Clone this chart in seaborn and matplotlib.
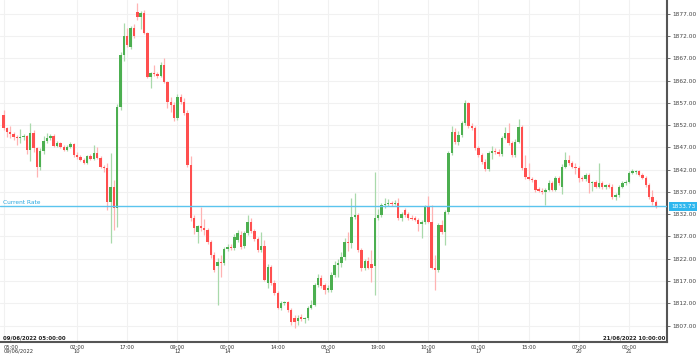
import matplotlib
matplotlib.use("Agg")
import matplotlib.pyplot as plt
import matplotlib.transforms as mtransforms
import seaborn as sns
import numpy as np
import pandas as pd

opens = [1854.3, 1851.4, 1850.5, 1850.1, 1849.4, 1849.0, 1849.3, 1849.5, 1846.5, 1850.3,
         1846.9, 1842.6, 1846.3, 1848.4, 1849.0, 1849.6, 1847.4, 1847.9, 1847.2, 1846.5,
         1847.2, 1847.8, 1845.3, 1844.9, 1844.2, 1843.5, 1845.0, 1844.5, 1845.8, 1844.6,
         1842.7, 1842.3, 1834.8, 1838.1, 1833.4,
         1856.1, 1867.8, 1872.1, 1869.6, 1873.9, 1877.4, 1876.3, 1877.2, 1872.7, 1862.9,
         1863.8, 1863.5, 1863.0, 1865.5, 1861.7, 1857.2, 1856.6, 1853.6, 1858.4, 1857.3,
         1854.8, 1843.1, 1831.2,
         1828.0, 1829.3, 1828.9, 1828.5, 1825.8, 1822.9, 1820.3, 1821.3, 1821.0, 1824.2,
         1824.7, 1824.4, 1826.2, 1827.4, 1824.9, 1827.8, 1830.3, 1828.2, 1826.4, 1824.0,
         1824.8, 1816.6, 1820.1, 1816.6, 1814.3, 1811.0, 1812.0, 1812.2, 1810.5, 1808.6,
         1808.0, 1808.9, 1808.4, 1808.6, 1811.0, 1811.7, 1816.1, 1817.7, 1816.1, 1815.0,
         1815.0, 1818.4, 1820.6, 1821.1,
         1822.4, 1825.8, 1825.5, 1831.4, 1831.8, 1824.0, 1820.0, 1821.5, 1820.8, 1820.3,
         1831.2, 1831.9, 1834.1, 1834.3, 1834.4, 1834.3, 1834.6, 1831.2, 1832.9, 1832.1,
         1831.2, 1831.2, 1830.7, 1829.9, 1830.3, 1833.6, 1830.3, 1820.0, 1819.5, 1829.6,
         1828.0, 1832.5, 1845.8,
         1850.5, 1848.3, 1849.8, 1852.5, 1857.0, 1851.9, 1851.4, 1846.9, 1845.3, 1843.8,
         1842.2, 1845.8, 1846.2, 1846.0, 1845.5, 1849.2, 1850.3, 1848.0, 1845.3, 1848.3,
         1851.6, 1842.4, 1840.4, 1840.0, 1839.7, 1837.5, 1837.3, 1837.0, 1837.5, 1839.0,
         1837.5, 1840.2, 1838.0, 1842.7, 1844.2, 1843.5, 1842.7, 1842.4, 1840.2, 1839.8,
         1840.8, 1839.0, 1839.2, 1838.2, 1839.0, 1838.2, 1838.4, 1838.2, 1835.9, 1836.3,
         1838.2, 1839.0, 1839.3, 1841.3, 1841.5, 1841.6, 1840.9, 1840.2, 1838.6, 1835.9,
         1834.8]
highs = [1855.4, 1851.6, 1851.8, 1850.4, 1849.8, 1851.2, 1849.9, 1849.8, 1852.4, 1850.9,
         1847.2, 1846.8, 1849.6, 1850.2, 1850.0, 1849.9, 1848.5, 1848.2, 1847.5, 1847.6,
         1848.2, 1848.0, 1846.0, 1845.4, 1844.6, 1845.4, 1845.6, 1847.6, 1847.0, 1845.0,
         1843.0, 1843.5, 1845.8, 1839.7, 1856.8,
         1868.5, 1875.0, 1873.9, 1874.3, 1874.6, 1879.4, 1877.6, 1877.8, 1873.0, 1864.0,
         1865.5, 1864.0, 1866.2, 1867.1, 1862.0, 1858.4, 1857.2, 1859.0, 1858.9, 1858.0,
         1855.4, 1845.0, 1831.8,
         1829.6, 1833.6, 1830.9, 1829.0, 1826.2, 1823.4, 1822.2, 1822.8, 1824.6, 1825.4,
         1825.2, 1827.6, 1828.4, 1828.2, 1828.3, 1831.9, 1831.2, 1828.6, 1826.8, 1828.0,
         1826.2, 1820.8, 1820.6, 1817.2, 1814.8, 1812.6, 1812.6, 1812.4, 1810.9, 1809.3,
         1809.4, 1809.5, 1809.0, 1811.4, 1812.8, 1816.6, 1818.6, 1818.4, 1816.5, 1816.0,
         1819.0, 1821.6, 1822.0, 1823.5,
         1826.7, 1828.0, 1835.7, 1836.8, 1832.2, 1824.4, 1822.0, 1822.3, 1824.0, 1841.5,
         1833.2, 1834.6, 1835.7, 1835.4, 1835.0, 1835.1, 1835.7, 1832.6, 1833.4, 1832.6,
         1831.8, 1831.6, 1831.2, 1830.6, 1834.0, 1836.1, 1834.1, 1822.9, 1830.0, 1830.6,
         1833.0, 1846.3, 1851.8,
         1851.4, 1850.6, 1853.0, 1857.7, 1857.3, 1852.4, 1851.8, 1847.3, 1845.8, 1844.3,
         1846.3, 1847.3, 1846.8, 1846.6, 1849.6, 1851.6, 1852.5, 1848.4, 1848.8, 1853.4,
         1852.0, 1845.3, 1843.6, 1840.4, 1840.0, 1838.0, 1837.9, 1837.9, 1839.6, 1839.4,
         1840.6, 1840.6, 1843.2, 1846.0, 1845.4, 1843.9, 1843.6, 1842.8, 1840.6, 1841.3,
         1841.2, 1839.5, 1839.6, 1843.5, 1839.5, 1838.8, 1839.0, 1838.8, 1836.8, 1838.6,
         1839.4, 1839.7, 1841.7, 1842.2, 1842.0, 1842.0, 1841.2, 1840.6, 1839.0, 1837.5,
         1835.2]
lows = [1851.0, 1849.4, 1849.0, 1848.6, 1847.6, 1848.0, 1848.6, 1845.6, 1844.0, 1846.0,
        1840.4, 1842.0, 1845.6, 1848.0, 1848.6, 1847.0, 1847.1, 1846.8, 1846.2, 1846.2,
        1846.9, 1844.9, 1844.4, 1843.9, 1843.2, 1843.2, 1844.2, 1844.2, 1844.4, 1842.4,
        1841.5, 1833.0, 1825.6, 1828.5, 1829.2,
        1855.4, 1866.5, 1869.5, 1869.0, 1871.5, 1875.5, 1873.5, 1872.5, 1862.5, 1860.4,
        1863.0, 1862.6, 1862.8, 1861.4, 1855.9, 1855.0, 1853.0, 1853.2, 1856.8, 1854.2,
        1842.6, 1830.5, 1827.6,
        1825.6, 1828.3, 1827.4, 1825.4, 1822.2, 1819.0, 1811.6, 1818.0, 1820.6, 1823.8,
        1823.9, 1824.0, 1825.8, 1824.2, 1824.4, 1827.4, 1827.8, 1826.0, 1823.6, 1823.5,
        1816.9, 1815.5, 1816.2, 1813.8, 1810.6, 1810.4, 1811.5, 1810.1, 1807.2, 1806.5,
        1807.2, 1808.0, 1807.6, 1808.2, 1810.6, 1811.3, 1815.6, 1815.5, 1814.0, 1814.5,
        1814.6, 1818.0, 1818.0, 1820.2,
        1821.8, 1823.8, 1824.4, 1830.9, 1823.6, 1819.2, 1819.5, 1819.6, 1816.8, 1813.9,
        1830.8, 1831.4, 1833.4, 1833.9, 1833.9, 1834.0, 1830.8, 1830.4, 1831.4, 1830.6,
        1830.6, 1830.4, 1828.2, 1826.7, 1829.8, 1830.0, 1819.6, 1815.0, 1819.0, 1827.6,
        1825.1, 1832.0, 1845.2,
        1847.8, 1847.6, 1849.4, 1852.0, 1851.4, 1850.8, 1846.4, 1844.9, 1843.3, 1841.6,
        1841.8, 1844.4, 1845.6, 1845.0, 1845.1, 1848.8, 1847.6, 1844.9, 1844.9, 1848.0,
        1841.9, 1840.0, 1839.6, 1839.2, 1837.0, 1836.9, 1836.6, 1834.1, 1837.1, 1837.1,
        1837.1, 1838.6, 1836.5, 1842.3, 1843.1, 1842.3, 1841.0, 1839.3, 1839.4, 1839.4,
        1836.8, 1837.3, 1837.8, 1837.8, 1837.6, 1837.6, 1837.9, 1835.4, 1835.2, 1835.9,
        1837.8, 1838.6, 1839.0, 1841.0, 1841.0, 1840.5, 1839.8, 1838.2, 1835.4, 1834.1,
        1833.3]
closes = [1851.4, 1850.5, 1850.1, 1849.4, 1849.0, 1849.3, 1849.5, 1846.5, 1850.3, 1846.9,
          1842.6, 1846.3, 1848.4, 1849.0, 1849.6, 1847.4, 1847.9, 1847.2, 1846.5, 1847.2,
          1847.8, 1845.3, 1844.9, 1844.2, 1843.5, 1845.0, 1844.5, 1845.8, 1844.6, 1842.7,
          1842.3, 1834.8, 1838.1, 1833.4, 1856.1,
          1867.8, 1872.1, 1870.0, 1873.9, 1872.1, 1876.3, 1877.2, 1872.7, 1862.9, 1863.8,
          1863.5, 1863.0, 1865.5, 1861.7, 1857.2, 1856.6, 1853.6, 1858.4, 1857.3, 1854.8,
          1843.1, 1831.2, 1828.9,
          1829.3, 1828.9, 1828.5, 1825.8, 1822.9, 1819.5, 1821.3, 1821.0, 1824.2, 1824.7,
          1824.4, 1826.9, 1827.8, 1824.7, 1827.8, 1830.3, 1828.2, 1826.4, 1824.0, 1824.8,
          1817.3, 1820.1, 1816.6, 1814.3, 1811.0, 1812.0, 1812.2, 1810.5, 1807.8, 1807.9,
          1808.8, 1808.4, 1808.6, 1811.0, 1811.7, 1816.1, 1817.7, 1815.9, 1815.0, 1815.4,
          1818.4, 1820.6, 1821.1, 1822.4,
          1825.8, 1825.5, 1831.4, 1831.8, 1824.0, 1820.0, 1821.5, 1820.0, 1820.0, 1831.2,
          1831.9, 1834.1, 1834.3, 1834.4, 1834.3, 1834.6, 1831.2, 1832.1, 1831.9, 1831.2,
          1830.9, 1830.7, 1829.7, 1830.3, 1833.6, 1830.3, 1820.0, 1819.5, 1829.6, 1828.0,
          1832.5, 1845.8, 1850.5,
          1848.3, 1849.8, 1852.5, 1857.0, 1851.9, 1851.4, 1846.9, 1845.3, 1843.8, 1842.2,
          1845.8, 1846.2, 1846.0, 1845.5, 1849.2, 1850.3, 1848.0, 1845.3, 1848.3, 1851.6,
          1842.4, 1840.4, 1840.0, 1839.7, 1837.5, 1837.3, 1837.0, 1837.5, 1839.0, 1837.5,
          1840.2, 1839.0, 1842.7, 1844.2, 1843.5, 1842.7, 1842.4, 1840.2, 1839.8, 1840.8,
          1839.0, 1839.2, 1838.2, 1839.0, 1838.2, 1838.4, 1838.2, 1835.9, 1836.3, 1838.2,
          1839.0, 1839.3, 1841.3, 1841.5, 1841.6, 1840.9, 1840.2, 1838.6, 1835.9, 1834.8,
          1833.73]

tick_labels = ["05:00\n09/06/2022", "02:00\n10", "17:00", "09:00\n12", "00:00\n14",
               "14:00", "05:00\n15", "19:00", "10:00\n16", "01:00\n17", "15:00",
               "07:00\n20", "00:00\n21"]
tick_candles = [0, 22, 37, 52, 67, 82, 97, 112, 127, 142, 157, 172, 187]
price_ticks = [1807, 1812, 1817, 1822, 1827, 1832, 1837, 1842, 1847, 1852,
               1857, 1862, 1867, 1872, 1877]
current_rate = 1833.73
start_stamp = "09/06/2022 05:00:00"
end_stamp = "21/06/2022 10:00:00"

sns.set_theme(style="white")
plt.rcParams["font.family"] = ["DejaVu Sans"]

df = pd.DataFrame({"o": opens, "h": highs, "l": lows, "c": closes})
df["x"] = np.arange(len(df))
df["up"] = df["c"] >= df["o"]
df["bottom"] = df[["o", "c"]].min(axis=1)
df["height"] = (df["c"] - df["o"]).abs().clip(lower=0.3)

GREEN, RED = "#4caf50", "#ff4f4f"
GREEN_W, RED_W = "#a9d9ab", "#ffb3b3"

fig = plt.figure(figsize=(6.99, 3.54), dpi=100)
fig.patch.set_facecolor("white")
ax = fig.add_axes([0, 12 / 354, 667 / 699, 342 / 354])
ax.set_facecolor("white")

# wicks
ax.vlines(df["x"], df["l"], df["h"],
          colors=np.where(df["up"], GREEN_W, RED_W), lw=0.9, zorder=2)
# bodies
ax.bar(df["x"], df["height"], bottom=df["bottom"], width=0.72,
       color=np.where(df["up"], GREEN, RED), linewidth=0, zorder=3)

px = 3.345
ax.set_xlim(-3.5 / px, (667 - 3.5) / px)
ax.set_ylim(1803.3, 1880.1)

ax.set_xticks(tick_candles)
ax.set_xticklabels(tick_labels, fontsize=3.7, color="#333333", linespacing=0.8)
ax.get_xticklabels()[0].set_ha("left")
ax.yaxis.tick_right()
ax.set_yticks(price_ticks)
ax.set_yticklabels([f"{v:.2f}" for v in price_ticks], fontsize=4.2, color="#444444")
ax.tick_params(axis="x", length=1.5, width=0.6, pad=0.4, colors="#555555", labelcolor="#333333")
ax.tick_params(axis="y", length=2.5, width=0.6, pad=1.5, colors="#555555", labelcolor="#444444")

ax.grid(True, color="#f1f1f1", lw=0.8, zorder=0)
ax.set_axisbelow(True)
for side in ["top", "left"]:
    ax.spines[side].set_visible(False)
for side in ["right", "bottom"]:
    ax.spines[side].set_visible(True)
    ax.spines[side].set_color("#555555")
    ax.spines[side].set_linewidth(1.5)

# current rate
blend = mtransforms.blended_transform_factory(ax.transAxes, ax.transData)
ax.axhline(current_rate, color="#5bc4ee", lw=1.0, zorder=4)
ax.text(0.005, current_rate + 0.35, "Current Rate", transform=blend,
        fontsize=4.2, color="#2aa8e0", ha="left", va="bottom", zorder=5)
ax.text(1.006, current_rate, f"{current_rate:.2f}", transform=blend,
        fontsize=4.2, color="white", ha="left", va="center", clip_on=False, zorder=6,
        bbox=dict(boxstyle="square,pad=0.3", fc="#2fb7ee", ec="none"))

# time stamps
ax.text(0.004, 0.004, start_stamp, transform=ax.transAxes, fontsize=3.9,
        color="#222222", ha="left", va="bottom", fontweight="bold")
ax.text(0.997, 0.004, end_stamp, transform=ax.transAxes, fontsize=3.9,
        color="#222222", ha="right", va="bottom", fontweight="bold")

fig.savefig("out.png", dpi=100, facecolor="white")
